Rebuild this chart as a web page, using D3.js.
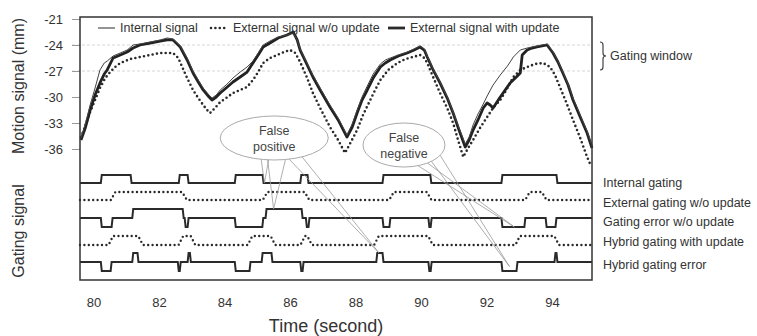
<!DOCTYPE html>
<html>
<head>
<meta charset="utf-8">
<script src="https://cdn.jsdelivr.net/npm/d3@7"></script>
<style>
  body { margin: 0; background: #fff; }
  svg { display: block; font-family: "Liberation Sans", Arial, sans-serif; }
</style>
</head>
<body>
<svg id="chart" width="757" height="336"></svg>
<script>
// tick values
const timeTicks = [80, 82, 84, 86, 88, 90, 92, 94];
const motionTicks = [-21, -24, -27, -30, -33, -36];
const gatingWindow = [-24, -27];

// motion signals [time (s), position (mm)]
const internalSignal = [
  [79.62,-34.73],[79.75,-33.12],[79.90,-30.92],[80.05,-28.96],[80.20,-26.88],[80.33,-26.08],[80.42,-25.85],[80.60,-25.27],
  [80.82,-24.92],[81.03,-24.58],[81.21,-24.00],[81.42,-23.88],[81.73,-23.65],[82.04,-23.42],[82.25,-23.19],[82.43,-23.31],
  [82.65,-24.12],[82.86,-25.50],[83.04,-27.00],[83.20,-28.04],[83.35,-28.96],[83.50,-29.65],[83.62,-30.12],[83.75,-29.77],
  [83.87,-29.19],[84.05,-28.62],[84.26,-27.81],[84.48,-27.12],[84.69,-26.54],[84.87,-25.85],[85.03,-24.92],[85.18,-24.00],
  [85.39,-23.54],[85.64,-23.08],[85.91,-22.85],[86.10,-22.62],[86.22,-23.42],[86.31,-24.46],[86.50,-25.96],[86.70,-27.46],
  [86.92,-28.96],[87.22,-30.92],[87.47,-32.42],[87.74,-34.38],[87.90,-33.12],[88.05,-31.50],[88.20,-30.00],[88.36,-28.73],
  [88.54,-27.35],[88.76,-26.19],[88.91,-25.73],[89.06,-25.50],[89.31,-25.15],[89.58,-24.81],[89.79,-24.46],[89.97,-24.12],
  [90.10,-24.46],[90.19,-25.27],[90.37,-26.77],[90.58,-28.27],[90.80,-30.00],[90.98,-31.73],[91.16,-33.58],[91.35,-35.42],
  [91.47,-34.62],[91.59,-33.23],[91.74,-31.96],[91.90,-30.81],[92.02,-29.88],[92.20,-28.62],[92.42,-27.46],[92.64,-26.42],
  [92.82,-25.38],[93.03,-24.58],[93.24,-24.35],[93.39,-24.23],[93.54,-24.12],[93.85,-23.88],[94.03,-24.81],[94.18,-25.85],
  [94.33,-27.12],[94.49,-28.50],[94.64,-30.12],[94.86,-32.08],[95.07,-33.92],[95.22,-35.65]
];

const externalNoUpdate = [
  [79.62,-34.62],[79.75,-33.35],[79.90,-31.73],[80.05,-30.35],[80.20,-28.96],[80.36,-27.81],[80.51,-27.12],[80.66,-26.54],
  [80.82,-26.08],[81.12,-25.62],[81.43,-25.38],[81.73,-25.15],[82.04,-24.92],[82.25,-24.92],[82.43,-24.92],[82.59,-25.50],
  [82.71,-26.54],[82.86,-27.81],[83.04,-29.19],[83.20,-30.12],[83.35,-30.92],[83.47,-31.50],[83.56,-31.85],[83.71,-31.27],
  [83.87,-30.58],[84.05,-30.12],[84.26,-29.54],[84.48,-29.19],[84.69,-28.85],[84.87,-28.04],[85.03,-27.12],[85.18,-26.08],
  [85.39,-25.50],[85.61,-25.15],[85.82,-24.81],[86.00,-24.58],[86.16,-24.92],[86.31,-25.96],[86.50,-27.58],[86.70,-29.54],
  [86.92,-31.27],[87.22,-33.46],[87.47,-34.96],[87.68,-36.46],[87.86,-35.19],[88.05,-33.81],[88.23,-32.08],[88.45,-30.35],
  [88.60,-29.19],[88.76,-28.04],[89.00,-26.88],[89.28,-26.08],[89.52,-25.62],[89.76,-25.38],[89.97,-25.15],[90.10,-25.50],
  [90.19,-26.08],[90.37,-27.69],[90.58,-29.54],[90.80,-31.27],[90.98,-33.00],[91.13,-34.96],[91.29,-36.92],[91.44,-35.88],
  [91.59,-34.96],[91.80,-33.58],[92.02,-32.31],[92.20,-31.27],[92.42,-30.35],[92.64,-28.96],[92.82,-27.69],[93.03,-26.88],
  [93.24,-26.54],[93.48,-26.19],[93.73,-26.08],[93.94,-26.54],[94.09,-27.46],[94.24,-28.85],[94.43,-30.58],[94.64,-32.65],
  [94.86,-34.73],[95.07,-36.92],[95.19,-37.96]
];

const externalWithUpdate = [
  [79.62,-34.96],[79.75,-33.58],[79.90,-31.50],[80.05,-29.77],[80.20,-28.38],[80.33,-27.35],[80.42,-26.88],[80.60,-25.50],
  [80.82,-25.15],[81.03,-24.81],[81.21,-24.35],[81.42,-24.00],[81.73,-23.77],[82.04,-23.54],[82.25,-23.42],[82.43,-23.42],
  [82.65,-24.23],[82.86,-25.73],[83.04,-27.23],[83.20,-28.27],[83.35,-29.19],[83.50,-29.88],[83.62,-30.35],[83.75,-30.00],
  [83.87,-29.54],[84.05,-28.96],[84.26,-28.27],[84.48,-27.69],[84.69,-27.12],[84.87,-26.08],[85.03,-25.15],[85.18,-24.23],
  [85.39,-23.77],[85.64,-23.19],[85.91,-22.85],[86.10,-22.50],[86.22,-23.42],[86.31,-24.58],[86.50,-26.08],[86.70,-27.69],
  [86.92,-29.19],[87.22,-31.15],[87.47,-32.65],[87.74,-34.62],[87.90,-33.46],[88.05,-31.85],[88.20,-30.35],[88.36,-29.19],
  [88.54,-27.81],[88.76,-26.54],[88.91,-26.08],[89.06,-25.73],[89.31,-25.27],[89.58,-24.92],[89.79,-24.58],[89.97,-24.23],
  [90.10,-24.58],[90.19,-25.38],[90.37,-26.88],[90.58,-28.38],[90.80,-30.12],[90.98,-31.85],[91.16,-33.81],[91.35,-35.77],
  [91.47,-34.96],[91.59,-33.81],[91.74,-32.65],[91.90,-31.27],[92.02,-30.69],[92.11,-30.92],[92.20,-31.27],[92.32,-30.58],
  [92.42,-30.00],[92.57,-29.19],[92.72,-28.38],[92.91,-27.69],[93.03,-27.23],[93.09,-25.15],[93.24,-24.58],[93.39,-24.35],
  [93.54,-24.23],[93.85,-24.00],[94.03,-24.92],[94.18,-25.96],[94.33,-27.23],[94.49,-28.62],[94.64,-30.35],[94.86,-32.31],
  [95.07,-34.15],[95.22,-35.88]
];

// gating signals: [start, end, level]  (level 1 = on / false positive, -1 = false negative)
const internalGating = [[80.24,81.15,1],[82.62,82.89,1],[84.33,85.18,1],[86.33,86.55,1],[88.84,90.30,1],[92.47,94.15,1]];
const externalGatingNoUpdate = [[80.60,82.78,1],[85.24,86.52,1],[89.10,90.25,1],[93.25,93.76,1]];
const gatingErrorNoUpdate = [
  [80.24,80.57,-1],[81.20,82.74,1],[82.80,82.89,-1],[84.33,85.17,-1],[85.27,86.37,1],[86.50,86.58,-1],
  [88.84,89.05,-1],[90.24,90.31,-1],[92.47,93.17,-1],[93.82,94.12,-1]
];
const hybridGating = [[80.53,81.44,1],[82.67,83.04,1],[84.78,85.48,1],[86.39,86.60,1],[88.64,90.29,1],[92.95,94.14,1]];
const hybridGatingError = [
  [80.24,80.54,-1],[81.20,81.36,1],[82.59,82.65,-1],[82.89,82.96,1],[84.33,84.78,-1],[85.15,85.45,1],
  [86.33,86.40,-1],[88.65,88.84,1],[90.24,90.31,-1],[92.47,92.93,-1],[94.09,94.15,1]
];

const gatingNames = ["Internal gating", "External gating w/o update", "Gating error w/o update",
                     "Hybrid gating with update", "Hybrid gating error"];
const legendNames = ["Internal signal", "External signal w/o update", "External signal with update"];

const font = "Liberation Sans, Arial, sans-serif";
const ink = "#333";
const svg = d3.select("#chart");

// plot frame
const box = { left: 80, top: 17, right: 592, bottom: 280 };

const x = d3.scaleLinear().domain([79.59, 95.22]).range([box.left, box.right]);
const y = d3.scaleLinear().domain([-21, -36]).range([19, 149]);

// faint gating window lines
svg.selectAll(".win")
   .data(gatingWindow)
   .enter().append("line")
   .attr("class", "win")
   .attr("x1", 72).attr("x2", box.right)
   .attr("y1", d => y(d)).attr("y2", d => y(d))
   .attr("stroke", "#d6d6d6")
   .attr("stroke-dasharray", "3,2");

// y axis (motion)
svg.append("g")
   .attr("transform", `translate(${box.left},0)`)
   .call(d3.axisLeft(y).tickValues(motionTicks).tickSize(8).tickPadding(9).tickFormat(d => String(d)))
   .attr("font-family", font)
   .attr("font-size", 13)
   .call(g => g.select(".domain").remove())
   .call(g => g.selectAll("line").attr("stroke", "#999"))
   .call(g => g.selectAll("text").attr("fill", ink));

// x axis (labels only)
svg.append("g")
   .attr("transform", `translate(0,${box.bottom})`)
   .call(d3.axisBottom(x).tickValues(timeTicks).tickSize(0).tickPadding(18))
   .attr("font-family", font)
   .attr("font-size", 13)
   .call(g => g.select(".domain").remove())
   .call(g => g.selectAll("text").attr("fill", ink));

// axis titles
svg.append("text")
   .attr("transform", "translate(24,86) rotate(-90)")
   .attr("text-anchor", "middle")
   .attr("font-family", font).attr("font-size", 16).attr("fill", ink)
   .text("Motion signal (mm)");

svg.append("text")
   .attr("transform", "translate(24,231) rotate(-90)")
   .attr("text-anchor", "middle")
   .attr("font-family", font).attr("font-size", 16).attr("fill", ink)
   .text("Gating signal");

svg.append("text")
   .attr("x", 326).attr("y", 332)
   .attr("text-anchor", "middle")
   .attr("font-family", font).attr("font-size", 18).attr("fill", ink)
   .text("Time (second)");

// motion lines
const line = d3.line().x(d => x(d[0])).y(d => y(d[1]));

svg.append("path")
   .datum(externalNoUpdate)
   .attr("fill", "none")
   .attr("stroke", "#2a2a2a")
   .attr("stroke-width", 2.6)
   .attr("stroke-linecap", "round")
   .attr("stroke-dasharray", "0,4.4")
   .attr("d", line);

svg.append("path")
   .datum(externalWithUpdate)
   .attr("fill", "none")
   .attr("stroke", "#222")
   .attr("stroke-width", 2.8)
   .attr("stroke-linejoin", "round")
   .attr("d", line);

svg.append("path")
   .datum(internalSignal)
   .attr("fill", "none")
   .attr("stroke", "#444")
   .attr("stroke-width", 1)
   .attr("d", line);

// legend
const legendX = [98, 211, 388];
const legendStyle = [
  { w: 1, dash: null },
  { w: 2.6, dash: "0,4.4" },
  { w: 2.8, dash: null }
];
legendNames.forEach((name, i) => {
  svg.append("line")
     .attr("x1", legendX[i]).attr("x2", legendX[i] + 17)
     .attr("y1", 28).attr("y2", 28)
     .attr("stroke", "#2a2a2a")
     .attr("stroke-width", legendStyle[i].w)
     .attr("stroke-linecap", legendStyle[i].dash ? "round" : "butt")
     .attr("stroke-dasharray", legendStyle[i].dash);
  svg.append("text")
     .attr("x", legendX[i] + 22).attr("y", 28)
     .attr("dy", "0.35em")
     .attr("font-family", font).attr("font-size", 12.5).attr("fill", ink)
     .text(name);
});

// gating window bracket
const by0 = y(-24) - 3, by1 = y(-27) - 1, bm = (by0 + by1) / 2;
svg.append("path")
   .attr("d", `M600,${by0} q3,0 3,3 V${bm - 3} q0,3 3,3 q-3,0 -3,3 V${by1 - 3} q0,3 -3,3`)
   .attr("fill", "none").attr("stroke", "#444").attr("stroke-width", 1.2);
svg.append("text")
   .attr("x", 610).attr("y", bm)
   .attr("dy", "0.35em")
   .attr("font-family", font).attr("font-size", 12.5).attr("fill", ink)
   .text("Gating window");

// gating rows
const gatingRows = [internalGating, externalGatingNoUpdate, gatingErrorNoUpdate, hybridGating, hybridGatingError];
const rowDotted = [false, true, false, true, false];
const rowBase = [183, 200, 218, 245, 262];
const rowAmp = [8, 8, 9, 9, 9];
const labelY = [183, 203, 222, 242, 265];

function stepPoints(intervals, ramp) {
  const pts = [[x.domain()[0], 0]];
  intervals.forEach(([s, e, lvl]) => {
    pts.push([s - ramp / 2, 0], [s + ramp / 2, lvl], [e - ramp / 2, lvl], [e + ramp / 2, 0]);
  });
  pts.push([x.domain()[1], 0]);
  return pts;
}

gatingRows.forEach((rowData, i) => {
  const level = d3.scaleLinear().domain([-1, 1]).range([rowBase[i] + rowAmp[i], rowBase[i] - rowAmp[i]]);
  const stepLine = d3.line().x(d => x(d[0])).y(d => level(d[1]));
  const path = svg.append("path")
     .datum(stepPoints(rowData, rowDotted[i] ? 0.14 : 0.03))
     .attr("fill", "none")
     .attr("stroke", "#2a2a2a")
     .attr("d", stepLine);
  if (rowDotted[i]) {
    path.attr("stroke-width", 2.4)
        .attr("stroke-linecap", "round")
        .attr("stroke-dasharray", "0,4.4");
  } else {
    path.attr("stroke-width", 2);
  }
  svg.append("text")
     .attr("x", 603).attr("y", labelY[i])
     .attr("dy", "0.35em")
     .attr("font-family", font).attr("font-size", 12.5).attr("fill", ink)
     .text(gatingNames[i]);
});

// callouts: ellipse centre in data units, wedges from ellipse angles to [time, row, level]
const callouts = [
  { lines: ["False", "positive"], t: 85.52, v: -34.73, rx: 54, ry: 22,
    wedges: [[[104, 96], [85.22, 0, 0]], [[97, 78], [85.5, 2, 1]], [[74, 59], [88.72, 4, 1]]] },
  { lines: ["False", "negative"], t: 89.48, v: -35.54, rx: 41, ry: 22,
    wedges: [[[70, 55], [92.85, 2, -1]], [[48, 28], [92.7, 4, -0.5]]] }
];

callouts.forEach(c => {
  const cx = x(c.t), cy = y(c.v);
  c.wedges.forEach(([angles, [tt, row, lvl]]) => {
    const tx = x(tt), ty = rowBase[row] - lvl * rowAmp[row];
    angles.forEach(a => {
      const r = a * Math.PI / 180;
      svg.append("line")
         .attr("x1", cx + c.rx * Math.cos(r)).attr("y1", cy + c.ry * Math.sin(r))
         .attr("x2", tx).attr("y2", ty)
         .attr("stroke", "#999").attr("stroke-width", 0.8);
    });
  });
  svg.append("ellipse")
     .attr("cx", cx).attr("cy", cy).attr("rx", c.rx).attr("ry", c.ry)
     .attr("fill", "#fff").attr("stroke", "#aaa").attr("stroke-width", 1);
  c.lines.forEach((s, k) => {
    svg.append("text")
       .attr("x", cx).attr("y", cy + (k === 0 ? -7 : 9))
       .attr("dy", "0.35em")
       .attr("text-anchor", "middle")
       .attr("font-family", font).attr("font-size", 12.5).attr("fill", "#444")
       .text(s);
  });
});

// frame on top
svg.append("rect")
   .attr("x", box.left).attr("y", box.top)
   .attr("width", box.right - box.left).attr("height", box.bottom - box.top)
   .attr("fill", "none").attr("stroke", "#333").attr("stroke-width", 1.5);
</script>
</body>
</html>
